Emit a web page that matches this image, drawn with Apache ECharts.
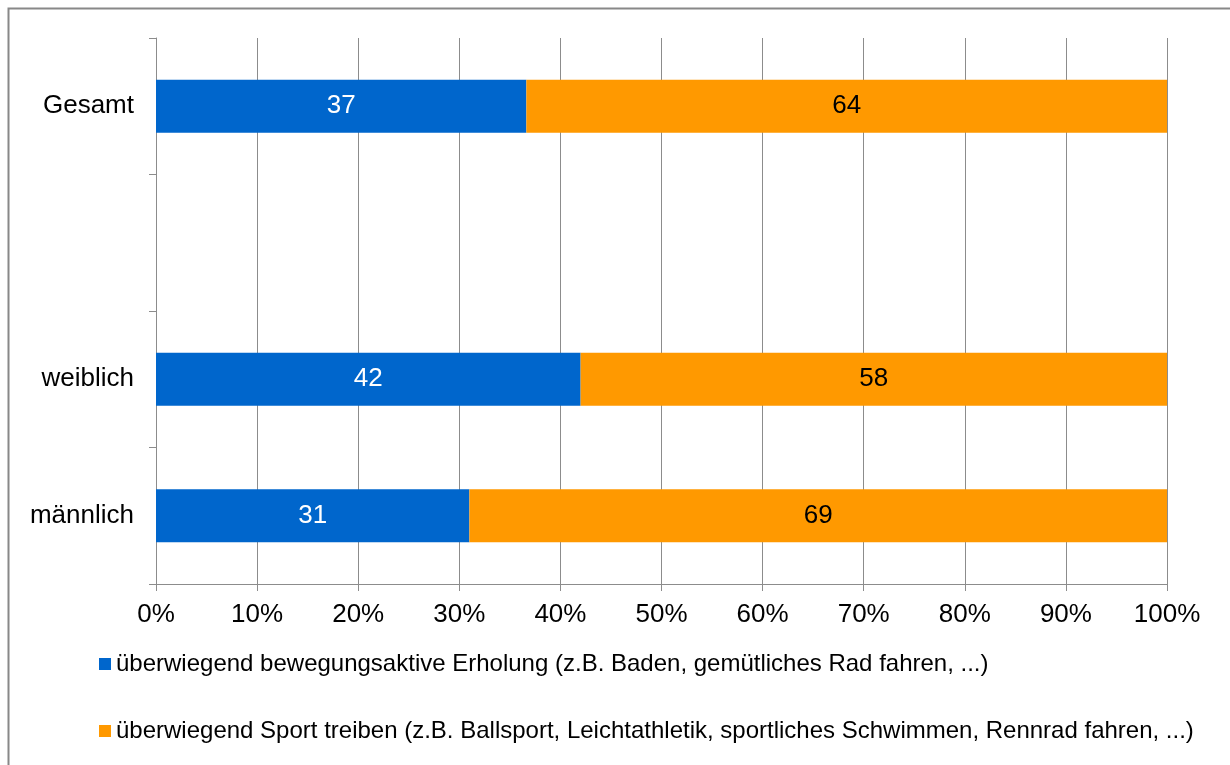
<!DOCTYPE html>
<html>
<head>
<meta charset="utf-8">
<script src="https://cdn.jsdelivr.net/npm/echarts@6/dist/echarts.min.js"></script>
<style>
  html, body { margin: 0; padding: 0; background: #fff; }
  #chart { width: 1230px; height: 765px; }
</style>
</head>
<body>
<div id="chart"></div>
<script>
// categories bottom -> top, '' is the empty slot
var categories = ['männlich', 'weiblich', '', 'Gesamt'];
var seriesNames = [
  'überwiegend bewegungsaktive Erholung (z.B. Baden, gemütliches Rad fahren, ...)',
  'überwiegend Sport treiben (z.B. Ballsport, Leichtathletik, sportliches Schwimmen, Rennrad fahren, ...)'
];
var erholung = [31, 42, null, 37];
var sport = [69, 58, null, 64];
var xTicks = [0, 10, 20, 30, 40, 50, 60, 70, 80, 90, 100];

var colors = ['#0066CC', '#FF9900'];
var gray = '#8c8c8c';
var font = 'Liberation Sans, Arial, sans-serif';

// 100% stacked: share of each row
function share(vals, other) {
  return vals.map(function (v, i) {
    if (v == null) return null;
    return { value: v / (v + other[i]) * 100, raw: v };
  });
}

var chart = echarts.init(document.getElementById('chart'));
chart.setOption({
  animation: false,
  color: colors,
  textStyle: { fontFamily: font },
  graphic: [{
    type: 'rect',
    shape: { x: 8.5, y: 8.5, width: 1240, height: 780 },
    style: { fill: 'none', stroke: '#888', lineWidth: 2 }
  }],
  grid: { left: 156, right: 63, top: 38, bottom: 181 },
  legend: {
    orient: 'vertical',
    left: 99,
    top: 652,
    padding: 0,
    icon: 'rect',
    itemWidth: 12,
    itemHeight: 12,
    itemGap: 43,
    textStyle: { fontSize: 24, lineHeight: 24, color: '#000', fontFamily: font },
    data: seriesNames
  },
  xAxis: {
    type: 'value',
    min: 0,
    max: 100,
    interval: 10,
    axisLine: { show: true, lineStyle: { color: gray } },
    axisTick: { show: true, length: 7, lineStyle: { color: gray } },
    splitLine: { show: true, lineStyle: { color: gray } },
    axisLabel: {
      margin: 18,
      fontSize: 26,
      color: '#000',
      fontFamily: font,
      formatter: function (v) { return xTicks.indexOf(v) >= 0 ? v + '%' : ''; }
    }
  },
  yAxis: {
    type: 'category',
    data: categories,
    axisLine: { show: true, lineStyle: { color: gray } },
    axisTick: { show: true, length: 7, lineStyle: { color: gray } },
    axisLabel: { margin: 22, fontSize: 26, color: '#000', fontFamily: font }
  },
  series: [
    {
      name: seriesNames[0],
      type: 'bar',
      stack: 'total',
      barWidth: 53,
      data: share(erholung, sport),
      label: {
        show: true,
        position: 'inside',
        color: '#fff',
        fontSize: 26,
        fontFamily: font,
        formatter: function (p) { return p.data.raw; }
      }
    },
    {
      name: seriesNames[1],
      type: 'bar',
      stack: 'total',
      barWidth: 53,
      data: share(sport, erholung),
      label: {
        show: true,
        position: 'inside',
        color: '#000',
        fontSize: 26,
        fontFamily: font,
        formatter: function (p) { return p.data.raw; }
      }
    }
  ]
});
</script>
</body>
</html>
